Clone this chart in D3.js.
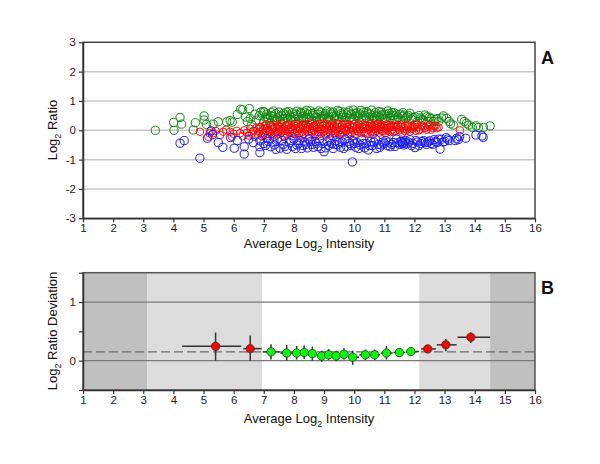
<!DOCTYPE html>
<html><head><meta charset="utf-8">
<script src="https://cdn.jsdelivr.net/npm/d3@7"></script>
<style>body{margin:0;background:#fff}svg{display:block}text{font-family:"Liberation Sans",Arial,sans-serif}</style>
</head><body>
<svg id="c" width="600" height="464"></svg>
<script>
// ---------- Panel A data (Average Log2 Intensity, Log2 Ratio) ----------
const greenPts = [[3.40,0.00],[4.01,0.27],[4.02,0.00],[4.22,0.44],[4.27,0.21],[4.66,0.01],[4.73,0.26],[5.02,0.49],[5.02,0.35],[5.10,0.20],[5.32,0.21],[5.49,0.29],[5.77,0.29],[5.88,0.33],[5.95,0.28],[6.12,0.54],[6.23,0.72],[6.30,0.70],[6.40,0.45],[6.45,0.30],[6.52,0.74],[6.55,0.40],[6.60,0.20],[6.70,0.55],[6.75,0.35],[6.85,0.50],[6.90,0.62],[6.98,0.64],[7.00,0.30],[7.05,0.45],[7.10,0.55],[7.15,0.38],[7.20,0.25],[7.25,0.60],[7.30,0.48],[7.35,0.35],[7.40,0.56],[7.45,0.42],[7.50,0.62],[7.55,0.30],[7.60,0.50],[7.65,0.58],[7.70,0.40],[7.75,0.62],[7.80,0.35],[7.85,0.52],[7.90,0.45],[7.95,0.60],[8.00,0.30],[8.05,0.55],[8.10,0.65],[8.15,0.42],[8.20,0.35],[8.25,0.58],[8.30,0.48],[8.35,0.62],[8.40,0.38],[8.45,0.55],[8.50,0.45],[8.55,0.66],[8.60,0.32],[8.65,0.50],[8.70,0.60],[8.75,0.42],[8.80,0.55],[8.85,0.35],[8.90,0.62],[8.95,0.48],[9.00,0.40],[9.05,0.58],[9.10,0.66],[9.15,0.45],[9.20,0.35],[9.25,0.55],[9.30,0.62],[9.35,0.42],[9.40,0.50],[9.45,0.68],[9.50,0.38],[9.55,0.56],[9.60,0.45],[9.65,0.62],[9.70,0.33],[9.75,0.52],[9.80,0.60],[9.85,0.42],[9.90,0.55],[9.97,0.69],[10.00,0.38],[10.05,0.48],[10.10,0.60],[10.15,0.42],[10.20,0.55],[10.25,0.35],[10.30,0.62],[10.35,0.50],[10.40,0.44],[10.45,0.58],[10.50,0.38],[10.58,0.69],[10.60,0.50],[10.65,0.42],[10.70,0.60],[10.75,0.35],[10.80,0.52],[10.85,0.45],[10.90,0.62],[10.95,0.40],[11.00,0.55],[11.05,0.33],[11.10,0.48],[11.15,0.58],[11.20,0.42],[11.25,0.60],[11.30,0.50],[11.35,0.38],[11.40,0.55],[11.45,0.45],[11.52,0.55],[11.55,0.35],[11.60,0.48],[11.65,0.52],[11.70,0.40],[11.80,0.50],[11.90,0.38],[12.02,0.46],[12.10,0.30],[12.20,0.42],[12.30,0.35],[12.41,0.46],[12.45,0.30],[12.55,0.40],[12.68,0.37],[12.80,0.30],[12.90,0.42],[12.96,0.49],[13.07,0.41],[13.15,0.30],[13.20,0.22],[13.29,0.18],[13.57,0.37],[13.65,0.30],[13.73,0.24],[13.80,0.18],[13.92,0.10],[14.05,0.15],[14.12,0.09],[14.29,0.10],[14.51,0.15],
[7.02,0.62],[7.12,0.42],[7.22,0.50],[7.32,0.66],[7.42,0.32],[7.52,0.48],[7.62,0.38],[7.72,0.52],[7.82,0.64],[7.92,0.36],[8.02,0.46],[8.12,0.52],[8.22,0.62],[8.32,0.40],[8.42,0.68],[8.52,0.36],[8.62,0.58],[8.72,0.46],[8.82,0.66],[8.92,0.40],[9.02,0.52],[9.12,0.38],[9.22,0.62],[9.32,0.48],[9.42,0.36],[9.52,0.64],[9.62,0.52],[9.72,0.44],[9.82,0.66],[9.92,0.36],[10.02,0.58],[10.12,0.50],[10.22,0.68],[10.32,0.40],[10.42,0.64],[10.52,0.55],[10.62,0.36],[10.72,0.48],[10.82,0.64],[10.92,0.52],[11.02,0.40],[11.12,0.66],[11.22,0.50],[11.32,0.60],[11.42,0.36],[11.62,0.60],[11.75,0.46],[11.85,0.58],[11.95,0.44],[12.15,0.50],[12.25,0.36],[12.35,0.52],[12.50,0.45],[12.62,0.30],[12.75,0.40]];

const redPts = [[4.88,-0.05],[5.16,-0.22],[5.20,-0.10],[5.32,-0.10],[5.40,-0.02],[5.55,-0.16],[5.65,-0.05],[5.75,0.02],[5.88,-0.05],[5.94,-0.22],[6.00,-0.12],[6.10,-0.02],[6.21,-0.10],[6.30,-0.20],[6.35,0.00],[6.45,-0.08],[6.50,-0.18],[6.55,0.05],[6.60,-0.12],[6.65,-0.02],[6.70,-0.22],[6.75,0.08],
[6.80,-0.15],[6.83,0.05],[6.86,-0.05],[6.90,0.12],[6.93,-0.20],[6.96,0.00],[7.00,-0.10],[7.03,0.15],[7.06,-0.02],[7.10,0.08],[7.13,-0.18],[7.16,0.02],[7.20,-0.08],[7.23,0.18],[7.26,-0.12],[7.30,0.05],
[7.33,-0.22],[7.36,0.10],[7.40,-0.04],[7.43,0.20],[7.46,-0.14],[7.50,0.02],[7.53,0.12],[7.56,-0.08],[7.60,0.22],[7.63,-0.18],[7.66,0.06],[7.70,-0.02],[7.73,0.15],[7.76,-0.12],[7.80,0.04],
[7.83,0.20],[7.86,-0.06],[7.90,0.10],[7.93,-0.20],[7.96,0.00],[8.00,0.16],[8.03,-0.10],[8.06,0.07],[8.10,-0.02],[8.13,0.22],[8.16,-0.15],[8.20,0.04],[8.23,0.12],[8.26,-0.06],[8.30,0.18],
[8.33,-0.12],[8.36,0.02],[8.40,0.20],[8.43,-0.04],[8.46,0.10],[8.50,-0.18],[8.53,0.06],[8.56,0.24],[8.60,-0.08],[8.63,0.14],[8.66,0.00],[8.70,-0.14],[8.73,0.18],[8.76,0.04],[8.80,-0.06],
[8.83,0.12],[8.86,0.22],[8.90,-0.12],[8.93,0.02],[8.96,0.16],[9.00,-0.04],[9.03,0.08],[9.06,-0.18],[9.10,0.20],[9.13,0.00],[9.16,0.12],[9.20,-0.10],[9.23,0.06],[9.26,0.24],[9.30,-0.02],
[9.33,0.14],[9.36,-0.14],[9.40,0.04],[9.43,0.20],[9.46,-0.06],[9.50,0.10],[9.53,-0.16],[9.56,0.02],[9.60,0.18],[9.63,-0.08],[9.66,0.08],[9.70,0.22],[9.73,-0.02],[9.76,0.12],[9.80,-0.12],
[9.83,0.04],[9.86,0.18],[9.90,-0.06],[9.93,0.10],[9.96,0.00],[10.00,0.22],[10.03,-0.14],[10.06,0.06],[10.10,0.14],[10.13,-0.04],[10.16,0.20],[10.20,0.02],[10.23,-0.10],[10.26,0.12],[10.30,0.04],
[10.33,-0.06],[10.36,0.18],[10.40,0.08],[10.43,-0.12],[10.46,0.02],[10.50,0.14],[10.53,0.22],[10.56,-0.04],[10.60,0.10],[10.63,-0.14],[10.66,0.04],[10.70,0.18],[10.73,-0.02],[10.76,0.08],[10.80,0.14],
[10.83,-0.08],[10.86,0.04],[10.90,0.20],[10.93,-0.02],[10.96,0.10],[11.00,0.16],[11.03,-0.10],[11.06,0.06],[11.10,0.00],[11.13,0.18],[11.16,0.08],[11.20,-0.06],[11.23,0.12],[11.26,0.02],[11.30,0.16],
[11.35,-0.04],[11.40,0.10],[11.45,0.18],[11.50,0.00],[11.55,0.12],[11.60,-0.08],[11.65,0.06],[11.70,0.16],[11.75,0.02],[11.80,0.10],
[11.85,-0.04],[11.90,0.14],[11.95,0.06],[12.00,0.18],[12.05,-0.02],[12.10,0.10],[12.20,0.04],[12.25,0.16],[12.35,0.08],[12.45,0.12],[12.55,0.02],[12.65,0.14],[12.74,0.07],[12.80,0.10],[13.51,0.00],
[6.88,0.10],[6.98,-0.16],[7.08,0.20],[7.18,-0.04],[7.28,0.12],[7.38,-0.10],[7.48,0.16],[7.58,-0.02],[7.68,-0.20],[7.78,0.18],[7.88,0.02],[7.98,-0.12],[8.08,0.22],[8.18,0.10],[8.28,-0.18],[8.38,0.08],[8.48,0.20],[8.58,-0.02],[8.68,0.12],[8.78,-0.16],[8.88,0.04],[8.98,0.24],[9.08,-0.08],[9.18,0.16],[9.28,0.08],[9.38,-0.04],[9.48,0.22],[9.58,-0.10],[9.68,0.02],[9.78,0.20],[9.88,-0.14],[9.98,0.12],[10.08,-0.02],[10.18,0.10],[10.28,0.20],[10.38,-0.10],[10.48,0.06],[10.58,0.16],[10.68,-0.08],[10.78,0.22],[10.88,0.12],[10.98,-0.04],[11.08,0.20],[11.18,0.14],[11.28,-0.04],[11.38,0.16],[11.48,0.06],[11.58,0.20],[11.68,-0.02],[11.78,0.18],[11.88,0.04],[11.98,0.12],[12.08,0.20],[12.15,0.00],[12.30,0.12],[12.40,0.02],[12.50,0.18],[12.60,0.08],[12.70,0.16]];

const bluePts = [[4.22,-0.44],[4.36,-0.35],[4.88,-0.95],[5.13,-0.27],[5.25,-0.02],[5.30,-0.15],[5.49,-0.42],[5.64,-0.58],[5.90,-0.25],[6.02,-0.61],[6.12,-0.35],[6.35,-0.81],[6.35,-0.56],[6.50,-0.30],[6.65,-0.42],[6.87,-0.76],[6.87,-0.56],[6.87,-0.36],[7.00,-0.45],[7.10,-0.28],[7.23,-0.56],[7.30,-0.40],[7.40,-0.65],[7.54,-0.61],[7.60,-0.35],[7.65,-0.48],[7.76,-0.65],[7.85,-0.42],[7.95,-0.55],[8.00,-0.30],[8.05,-0.62],[8.15,-0.45],[8.20,-0.35],[8.30,-0.52],[8.35,-0.40],[8.45,-0.60],[8.50,-0.30],[8.60,-0.48],[8.70,-0.38],[8.80,-0.55],[8.85,-0.30],[8.95,-0.45],[9.00,-0.73],[9.05,-0.60],[9.10,-0.38],[9.15,-0.52],[9.25,-0.45],[9.30,-0.62],[9.40,-0.35],[9.45,-0.50],[9.55,-0.58],[9.60,-0.40],[9.70,-0.30],[9.75,-0.55],[9.85,-0.45],[9.94,-1.08],[9.95,-0.35],[10.05,-0.58],[10.10,-0.42],[10.20,-0.50],[10.25,-0.32],[10.35,-0.60],[10.40,-0.45],[10.47,-0.67],[10.55,-0.38],[10.60,-0.52],[10.70,-0.30],[10.80,-0.48],[10.85,-0.58],[10.95,-0.40],[11.05,-0.35],[11.10,-0.52],[11.19,-0.56],[11.30,-0.42],[11.40,-0.30],[11.50,-0.48],[11.55,-0.38],[11.60,-0.45],[11.65,-0.50],[11.70,-0.35],[11.80,-0.40],[11.90,-0.52],[12.02,-0.59],[12.10,-0.40],[12.20,-0.45],[12.30,-0.35],[12.40,-0.48],[12.45,-0.40],[12.55,-0.45],[12.65,-0.32],[12.75,-0.42],[12.85,-0.64],[12.90,-0.30],[13.00,-0.38],[13.05,-0.25],[13.15,-0.35],[13.40,-0.27],[13.45,-0.32],[13.70,-0.27],[14.04,-0.16],[14.24,-0.19],[14.28,-0.24],
[7.05,-0.52],[7.15,-0.38],[7.35,-0.50],[7.45,-0.30],[7.70,-0.55],[7.90,-0.35],[8.10,-0.50],[8.25,-0.62],[8.40,-0.48],[8.55,-0.38],[8.65,-0.58],[8.75,-0.45],[8.90,-0.62],[9.20,-0.30],[9.35,-0.48],[9.50,-0.40],[9.65,-0.62],[9.80,-0.38],[9.90,-0.52],[10.00,-0.45],[10.15,-0.62],[10.30,-0.45],[10.50,-0.52],[10.65,-0.40],[10.75,-0.62],[10.90,-0.50],[11.00,-0.45],[11.15,-0.40],[11.25,-0.48],[11.35,-0.55],[11.45,-0.42],[11.58,-0.38],[11.62,-0.42],[11.68,-0.40],[11.75,-0.46],[11.85,-0.32],[11.95,-0.45],[12.05,-0.35],[12.15,-0.52],[12.25,-0.38],[12.35,-0.42],[12.50,-0.36],[12.60,-0.48],[12.70,-0.38],[12.80,-0.30],[12.95,-0.40],[13.10,-0.30],[13.35,-0.35],[13.50,-0.22]];

// ---------- Panel B data ----------
const binX  = [5.40,6.55,7.24,7.76,8.09,8.34,8.61,8.92,9.15,9.40,9.66,9.95,10.37,10.68,11.07,11.50,11.88,12.44,13.04,13.87];
const binY  = [0.245,0.205,0.15,0.13,0.13,0.14,0.12,0.08,0.10,0.08,0.11,0.06,0.10,0.10,0.13,0.14,0.155,0.20,0.27,0.40];
const binXLo= [4.29,6.32,6.96,7.55,7.96,8.23,8.48,8.78,9.05,9.28,9.54,9.81,10.17,10.54,10.88,11.30,11.72,12.22,12.74,13.43];
const binXHi= [6.25,6.93,7.52,7.95,8.22,8.47,8.76,9.04,9.27,9.53,9.80,10.16,10.53,10.86,11.28,11.70,12.15,12.71,13.40,14.51];
const binYLo= [0.00,0.00,0.02,0.00,0.02,0.03,0.00,-0.02,0.01,-0.01,0.02,-0.07,0.01,0.01,0.02,0.07,0.08,0.14,0.16,0.30];
const binYHi= [0.48,0.43,0.28,0.27,0.25,0.26,0.24,0.17,0.20,0.17,0.21,0.17,0.19,0.19,0.25,0.21,0.23,0.27,0.37,0.48];
const binFlag=["out","out","in","in","in","in","in","in","in","in","in","in","in","in","in","in","in","out","out","out"];
const zones = [[1,3.13,"dark"],[3.13,6.94,"light"],[12.16,14.51,"light"],[14.51,16,"dark"]];
const refLine = 0.15;

const xTicks = d3.range(1,17);
const yTicksA = [-3,-2,-1,0,1,2,3];
const yTicksB = [-0.5,0,0.5,1,1.5];
const yLabelsB = [0,1];

const svg = d3.select("#c");
const x = d3.scaleLinear().domain([1,16]).range([83,535]);
const yA = d3.scaleLinear().domain([-3,3]).range([218.3,42.3]);
const yB = d3.scaleLinear().domain([-0.5,1.5]).range([390,272.7]);

function styleAxis(g){
  g.select(".domain").attr("stroke","#333").attr("stroke-width",1.5);
  g.selectAll(".tick line").attr("stroke","#333").attr("stroke-width",1.2);
  g.selectAll(".tick text").attr("fill","#222").style("font-size","11.5px").style("font-family","'Liberation Sans',Arial,sans-serif");
}
function sub(t, pre, s, post){
  t.append("tspan").text(pre);
  t.append("tspan").text(s).attr("font-size","9px").attr("dy","4");
  t.append("tspan").text(post).attr("dy","-4");
}
const intFmt = d => String(d);

// ---------- Panel A ----------
const gA = svg.append("g");
gA.append("clipPath").attr("id","clipA").append("rect")
  .attr("x",x(1)).attr("y",yA(3)).attr("width",x(16)-x(1)).attr("height",yA(-3)-yA(3));
gA.selectAll("line.grid").data([-2,-1,0,1,2]).join("line")
  .attr("x1",x(1)).attr("x2",x(16)).attr("y1",d=>yA(d)).attr("y2",d=>yA(d))
  .attr("stroke","#c8c8c8").attr("stroke-width",1.5);
const pts = gA.append("g").attr("clip-path","url(#clipA)");
pts.selectAll("circle.g").data(greenPts).join("circle")
  .attr("cx",d=>x(d[0])).attr("cy",d=>yA(d[1])).attr("r",4.1)
  .attr("fill","none").attr("stroke","#118811").attr("stroke-width",1);
pts.selectAll("circle.r").data(redPts).join("circle")
  .attr("cx",d=>x(d[0])).attr("cy",d=>yA(d[1])).attr("r",3.8)
  .attr("fill","none").attr("stroke","#ff0000").attr("stroke-width",0.9);
pts.selectAll("circle.b").data(bluePts).join("circle")
  .attr("cx",d=>x(d[0])).attr("cy",d=>yA(d[1])).attr("r",4.1)
  .attr("fill","none").attr("stroke","#1a1aff").attr("stroke-width",1);
gA.append("rect").attr("x",x(1)).attr("y",yA(3)).attr("width",x(16)-x(1)).attr("height",yA(-3)-yA(3))
  .attr("fill","none").attr("stroke","#444").attr("stroke-width",1.5);
gA.append("g").attr("transform",`translate(0,${yA(-3)})`)
  .call(d3.axisBottom(x).tickValues(xTicks).tickSize(4).tickSizeOuter(0).tickPadding(2).tickFormat(intFmt)).call(styleAxis);
gA.append("g").attr("transform",`translate(${x(1)},0)`)
  .call(d3.axisLeft(yA).tickValues(yTicksA).tickSize(4).tickSizeOuter(0).tickPadding(3).tickFormat(intFmt)).call(styleAxis);
const tA = gA.append("text").attr("x",309).attr("y",248).attr("text-anchor","middle").attr("font-size","13px").attr("fill","#111");
sub(tA,"Average Log","2"," Intensity");
const tAy = gA.append("text").attr("transform","translate(57,130) rotate(-90)").attr("text-anchor","middle").attr("font-size","13px").attr("fill","#111");
sub(tAy,"Log","2"," Ratio");
gA.append("text").attr("x",541).attr("y",64).attr("font-size","18px").attr("font-weight","bold").attr("fill","#111").text("A");

// ---------- Panel B ----------
const gB = svg.append("g");
gB.selectAll("rect.zone").data(zones).join("rect")
  .attr("x",d=>x(d[0])).attr("width",d=>x(d[1])-x(d[0]))
  .attr("y",yB(1.5)).attr("height",yB(-0.5)-yB(1.5))
  .attr("fill",d=>d[2]==="dark"?"#c0c0c0":"#dcdcdc");
gB.selectAll("line.gridB").data(yLabelsB).join("line")
  .attr("x1",x(1)).attr("x2",x(16)).attr("y1",d=>yB(d)).attr("y2",d=>yB(d))
  .attr("stroke","#7a7a7a").attr("stroke-width",1.2);
gB.append("line").attr("x1",x(1)).attr("x2",x(16)).attr("y1",yB(refLine)).attr("y2",yB(refLine))
  .attr("stroke","#6a6a6a").attr("stroke-width",1.4).attr("stroke-dasharray","9,4");
const bins = binX.map((v,i)=>({x:v,y:binY[i],xl:binXLo[i],xh:binXHi[i],yl:binYLo[i],yh:binYHi[i],f:binFlag[i]}));
gB.selectAll("line.ex").data(bins).join("line")
  .attr("x1",d=>x(d.xl)).attr("x2",d=>x(d.xh)).attr("y1",d=>yB(d.y)).attr("y2",d=>yB(d.y))
  .attr("stroke","#333").attr("stroke-width",1.5);
gB.selectAll("line.ey").data(bins).join("line")
  .attr("x1",d=>x(d.x)).attr("x2",d=>x(d.x)).attr("y1",d=>yB(d.yl)).attr("y2",d=>yB(d.yh))
  .attr("stroke","#333").attr("stroke-width",1.5);
gB.selectAll("circle.bin").data(bins).join("circle")
  .attr("cx",d=>x(d.x)).attr("cy",d=>yB(d.y)).attr("r",4.2)
  .attr("fill",d=>d.f==="out"?"#ff0000":"#00ff00").attr("stroke","#333").attr("stroke-width",0.8);
gB.append("rect").attr("x",x(1)).attr("y",yB(1.5)).attr("width",x(16)-x(1)).attr("height",yB(-0.5)-yB(1.5))
  .attr("fill","none").attr("stroke","#555").attr("stroke-width",1.5);
gB.append("g").attr("transform",`translate(0,${yB(-0.5)})`)
  .call(d3.axisBottom(x).tickValues(xTicks).tickSize(4).tickSizeOuter(0).tickPadding(2).tickFormat(intFmt)).call(styleAxis);
gB.append("g").attr("transform",`translate(${x(1)},0)`)
  .call(d3.axisLeft(yB).tickValues(yTicksB).tickSize(4).tickSizeOuter(0).tickPadding(3)
    .tickFormat(d=>yLabelsB.includes(d)?String(d):"")).call(styleAxis);
const tB = gB.append("text").attr("x",309).attr("y",423).attr("text-anchor","middle").attr("font-size","13px").attr("fill","#111");
sub(tB,"Average Log","2"," Intensity");
const tBy = gB.append("text").attr("transform","translate(57,331) rotate(-90)").attr("text-anchor","middle").attr("font-size","13px").attr("fill","#111");
sub(tBy,"Log","2"," Ratio Deviation");
gB.append("text").attr("x",541).attr("y",294).attr("font-size","18px").attr("font-weight","bold").attr("fill","#111").text("B");
</script>
</body></html>
